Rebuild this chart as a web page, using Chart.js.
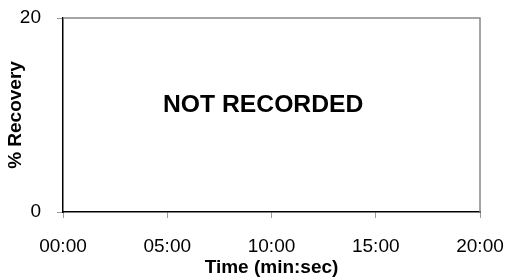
<!DOCTYPE html>
<html>
<head>
<meta charset="utf-8">
<script src="https://cdn.jsdelivr.net/npm/chart.js@4.4.0/dist/chart.umd.min.js"></script>
<style>
  html, body { margin: 0; padding: 0; background: #fff; }
  #wrap { width: 517px; height: 280px; }
</style>
</head>
<body>
<div id="wrap"><canvas id="recoveryChart" width="517" height="280"></canvas></div>
<script>
// time axis in minutes, labels shown as mm:ss
const timeTicks = [0, 5, 10, 15, 20];
const recoveryTicks = [0, 20];
const recoveryValues = []; // nothing recorded
const note = 'NOT RECORDED';
const notePos = { x: 9.6, y: 11.0 };

function fmtTime(v) {
  const m = Math.floor(v);
  const s = Math.round((v - m) * 60);
  return String(m).padStart(2, '0') + ':' + String(s).padStart(2, '0');
}

const ctx = document.getElementById('recoveryChart').getContext('2d');

const chart = new Chart(ctx, {
  type: 'line',
  data: {
    datasets: [{
      label: '% Recovery',
      data: recoveryValues,
      borderColor: '#000',
      pointRadius: 0
    }]
  },
  options: {
    responsive: false,
    animation: false,
    layout: { padding: { top: 18, right: 37, left: 0, bottom: 0 } },
    plugins: {
      legend: { display: false },
      tooltip: { enabled: false }
    },
    scales: {
      x: {
        type: 'linear',
        min: timeTicks[0],
        max: timeTicks[timeTicks.length - 1],
        afterBuildTicks: (axis) => { axis.ticks = timeTicks.map(v => ({ value: v })); },
        afterFit: (axis) => {
          axis.height = 68;
          axis.paddingLeft = 0;
          axis.paddingRight = 0;
        },
        border: { display: true, color: '#000', width: 1.5 },
        grid: { drawOnChartArea: false, drawTicks: true, tickLength: 6, color: '#999' },
        ticks: {
          color: '#000',
          font: { family: 'Liberation Sans, Arial', size: 19 },
          padding: 17,
          maxRotation: 0,
          callback: (v) => fmtTime(v)
        },
        title: {
          display: true,
          text: 'Time (min:sec)',
          color: '#000',
          font: { family: 'Liberation Sans, Arial', size: 19, weight: 'bold' },
          padding: { top: 0, bottom: 1 }
        }
      },
      y: {
        min: recoveryTicks[0],
        max: recoveryTicks[recoveryTicks.length - 1],
        afterBuildTicks: (axis) => { axis.ticks = recoveryTicks.map(v => ({ value: v })); },
        afterFit: (axis) => {
          axis.width = 63;
          axis.paddingTop = 0;
          axis.paddingBottom = 0;
        },
        border: { display: true, color: '#000', width: 1.5 },
        grid: { drawOnChartArea: false, drawTicks: true, tickLength: 6, color: '#999' },
        ticks: {
          color: '#000',
          font: { family: 'Liberation Sans, Arial', size: 19 },
          padding: 16
        },
        title: {
          display: true,
          text: '% Recovery',
          color: '#000',
          font: { family: 'Liberation Sans, Arial', size: 19, weight: 'bold' },
          padding: { top: 4, bottom: 0 }
        }
      }
    }
  },
  plugins: [{
    id: 'frameAndNote',
    afterDraw(chart) {
      const { ctx, chartArea: a, scales } = chart;
      ctx.save();
      // top and right edges are grey
      ctx.strokeStyle = '#888';
      ctx.lineWidth = 1.5;
      ctx.beginPath();
      ctx.moveTo(a.left, a.top);
      ctx.lineTo(a.right, a.top);
      ctx.lineTo(a.right, a.bottom);
      ctx.stroke();

      ctx.fillStyle = '#000';
      ctx.font = 'bold 24.7px "Liberation Sans", Arial';
      ctx.textAlign = 'center';
      ctx.textBaseline = 'middle';
      ctx.fillText(note, scales.x.getPixelForValue(notePos.x), scales.y.getPixelForValue(notePos.y));
      ctx.restore();
    }
  }]
});
</script>
</body>
</html>
